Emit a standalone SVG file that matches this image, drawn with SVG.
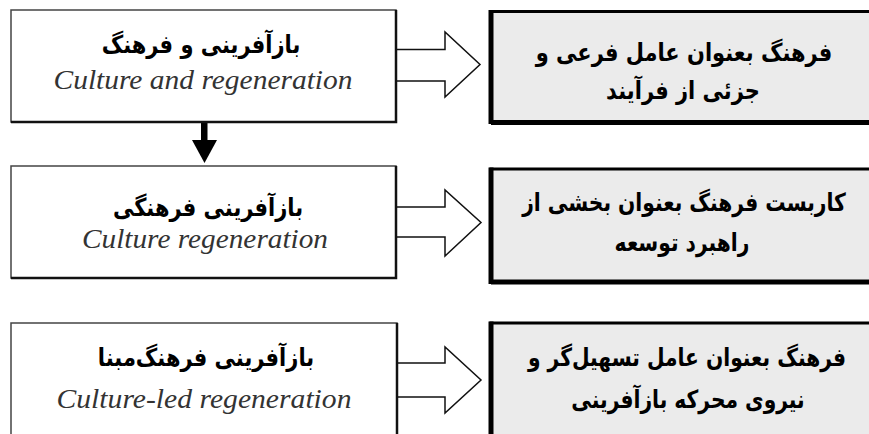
<svg xmlns="http://www.w3.org/2000/svg" width="869" height="434" viewBox="0 0 869 434">
<style>
.lbox{fill:#fff;stroke:#444;stroke-width:1.5}
.lshadow{fill:none;stroke:#111;stroke-width:2.5}
.rbox{fill:#ebebeb;stroke:#000;stroke-width:3}
.rthick{stroke:#000;stroke-width:5;fill:none}
.fa{font-family:"DejaVu Sans",sans-serif;font-weight:bold;font-size:25px;fill:#000;text-anchor:middle}
.en{font-family:"Liberation Serif",serif;font-style:italic;font-size:27px;fill:#333;text-anchor:middle}
.harrow{fill:#fff;stroke:#111;stroke-width:1.5;stroke-linejoin:miter}
</style>
<rect width="869" height="434" fill="#fff"/>
<g id="connectors">
<polygon class="harrow" points="396,49.5 445,49.5 445,32 480,64.5 445,97 445,81 396,81"/>
<polygon class="harrow" points="396,207 445,207 445,190 481,222.5 445,256 445,237 396,237"/>
<polygon class="harrow" points="397,363 445,363 445,347 481,380 445,413 445,397 397,397"/>
<rect x="201" y="122" width="6.5" height="19" fill="#000"/>
<polygon points="192,140 217,140 204.5,163" fill="#000"/>
</g>
<g id="node-left1">
<rect class="lbox" x="11" y="10" width="385" height="112"/>
<polyline class="lshadow" points="396,10 396,122 11,122"/>
<text class="fa" transform="translate(201 53) scale(0.84 1)" direction="rtl">بازآفرینی و فرهنگ</text>
<text class="en" x="203" y="89" textLength="299" lengthAdjust="spacingAndGlyphs">Culture and regeneration</text>
</g>
<g id="node-left2">
<rect class="lbox" x="11" y="166" width="385" height="112"/>
<polyline class="lshadow" points="396,166 396,278 11,278"/>
<text class="fa" transform="translate(208 216) scale(0.84 1)" direction="rtl">بازآفرینی فرهنگی</text>
<text class="en" x="205" y="248" textLength="246" lengthAdjust="spacingAndGlyphs">Culture regeneration</text>
</g>
<g id="node-left3">
<rect class="lbox" x="11" y="323" width="386" height="130"/>
<polyline class="lshadow" points="397,323 397,440"/>
<text class="fa" transform="translate(206 366) scale(0.84 1)" direction="rtl">بازآفرینی فرهنگ‌مبنا</text>
<text class="en" x="204" y="408" textLength="295" lengthAdjust="spacingAndGlyphs">Culture-led regeneration</text>
</g>
<g id="node-right1">
<rect class="rbox" x="491" y="11.5" width="380" height="111"/>
<line class="rthick" x1="491" y1="10" x2="491" y2="124"/>
<line class="rthick" x1="491" y1="122.5" x2="869" y2="122.5"/>
<text class="fa" transform="translate(684 61) scale(0.84 1)" direction="rtl">فرهنگ بعنوان عامل فرعی و</text>
<text class="fa" transform="translate(683 99) scale(0.84 1)" direction="rtl">جزئی از فرآیند</text>
</g>
<g id="node-right2">
<rect class="rbox" x="491" y="169" width="380" height="113"/>
<line class="rthick" x1="491" y1="167.5" x2="491" y2="284"/>
<line class="rthick" x1="491" y1="282" x2="869" y2="282"/>
<text class="fa" transform="translate(684 211) scale(0.81 1)" direction="rtl">کاربست فرهنگ بعنوان بخشی از</text>
<text class="fa" transform="translate(682 251) scale(0.81 1)" direction="rtl">راهبرد توسعه</text>
</g>
<g id="node-right3">
<rect class="rbox" x="491" y="323" width="380" height="130"/>
<line class="rthick" x1="491" y1="321.5" x2="491" y2="440"/>
<text class="fa" transform="translate(687 366) scale(0.81 1)" direction="rtl">فرهنگ بعنوان عامل تسهیل‌گر و</text>
<text class="fa" transform="translate(688 408) scale(0.81 1)" direction="rtl">نیروی محرکه بازآفرینی</text>
</g>
</svg>
